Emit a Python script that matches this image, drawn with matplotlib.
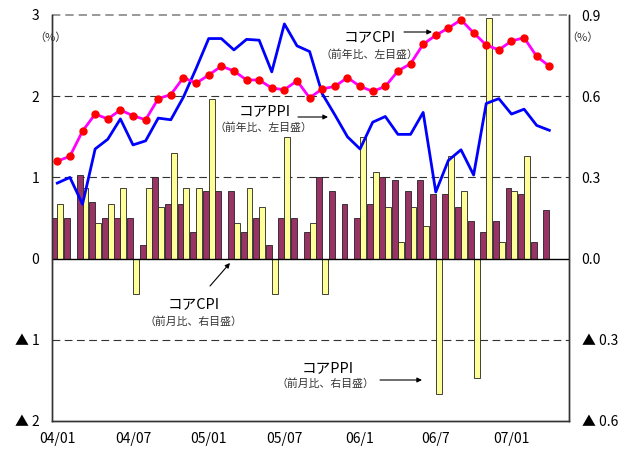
import numpy as np
import matplotlib
matplotlib.use("Agg")
import matplotlib.pyplot as plt

plt.rcParams['font.family'] = ['Noto Sans CJK JP', 'DejaVu Sans']

# ---- data ----
tick_pos = [0, 6, 12, 18, 24, 30, 36]
tick_labels = ["04/01", "04/07", "05/01", "05/07", "06/1", "06/7", "07/01"]

# Core CPI, year-on-year (%), left axis
cpi_yoy = [1.20, 1.26, 1.57, 1.78, 1.72, 1.83, 1.76, 1.71, 1.97, 2.02,
           2.23, 2.16, 2.26, 2.37, 2.31, 2.20, 2.20, 2.10, 2.08, 2.19,
           1.98, 2.09, 2.12, 2.23, 2.12, 2.06, 2.12, 2.31, 2.40, 2.64,
           2.75, 2.84, 2.94, 2.78, 2.63, 2.57, 2.68, 2.72, 2.49, 2.37]
# Core PPI, year-on-year (%), left axis
ppi_yoy = [0.93, 1.00, 0.67, 1.35, 1.47, 1.72, 1.40, 1.45, 1.73, 1.71,
           1.99, 2.34, 2.71, 2.71, 2.57, 2.70, 2.69, 2.30, 2.89, 2.62,
           2.55, 2.03, 1.77, 1.50, 1.35, 1.68, 1.75, 1.53, 1.53, 1.80,
           0.82, 1.21, 1.34, 1.03, 1.91, 1.97, 1.78, 1.84, 1.64, 1.58]
# Core CPI, month-on-month (%), right axis
cpi_mom = [0.15, 0.15, 0.31, 0.21, 0.15, 0.15, 0.15, 0.05, 0.30, 0.20,
           0.20, 0.10, 0.25, 0.25, 0.25, 0.10, 0.15, 0.05, 0.15, 0.15,
           0.10, 0.30, 0.25, 0.20, 0.15, 0.20, 0.30, 0.29, 0.25, 0.29,
           0.24, 0.24, 0.19, 0.14, 0.10, 0.14, 0.26, 0.24, 0.06, 0.18]
# Core PPI, month-on-month (%), right axis
ppi_mom = [0.20, 0.00, 0.26, 0.13, 0.20, 0.26, -0.13, 0.26, 0.19, 0.39,
           0.26, 0.26, 0.59, 0.00, 0.13, 0.26, 0.19, -0.13, 0.45, 0.00,
           0.13, -0.13, 0.00, 0.00, 0.45, 0.32, 0.19, 0.06, 0.19, 0.12,
           -0.50, 0.38, 0.25, -0.44, 0.89, 0.06, 0.25, 0.38, 0.00, 0.00]

W, H = 624, 453
fig = plt.figure(figsize=(W / 100, H / 100), dpi=100)
L, R, T, B = 52, 569, 15, 421
ax = fig.add_axes([L / W, 1 - B / H, (R - L) / W, (B - T) / H])
ax2 = ax.twinx()
ax.set_zorder(ax2.get_zorder() + 1)
ax.patch.set_visible(False)

x = np.arange(len(cpi_yoy))
bw = 0.47
ax2.bar(x - bw, cpi_mom, width=bw, align='edge', color='#993366',
        edgecolor='#222222', linewidth=0.6, zorder=2)
ax2.bar(x, ppi_mom, width=bw, align='edge', color='#FFFF99',
        edgecolor='#222222', linewidth=0.6, zorder=2)

for v in [-0.3, 0.3, 0.6]:
    ax2.axhline(v, color='#333333', linestyle=(0, (7, 4)), linewidth=0.8, zorder=0.5)
ax2.axhline(0.9, color='#888888', linestyle=(0, (5, 3)), linewidth=1.2, zorder=0.5, clip_on=False)
ax2.axhline(0.0, color='black', linewidth=1.0, zorder=3)

ax.plot(x, ppi_yoy, color='#0000FF', linewidth=2, zorder=4)
ax.plot(x, cpi_yoy, color='#FF00FF', linewidth=2, marker='o', markersize=5,
        markerfacecolor='#FF0000', markeredgecolor='#FF0000', zorder=5)

ax.set_xlim(-0.42, 40.56)
ax.set_ylim(-2, 3)
ax2.set_ylim(-0.6, 0.9)

ax.set_xticks(tick_pos)
ax.set_xticklabels(tick_labels, fontsize=10)
ax.set_yticks([-2, -1, 0, 1, 2, 3])
ax.set_yticklabels(['▲ 2', '▲ 1', '0', '1', '2', '3'], fontsize=10)
ax2.set_yticks([-0.6, -0.3, 0.0, 0.3, 0.6, 0.9])
ax2.set_yticklabels(['▲ 0.6', '▲ 0.3', '0.0', '0.3', '0.6', '0.9'], fontsize=10)
ax.tick_params(axis='both', length=0)
ax.tick_params(axis='y', pad=9)
ax.tick_params(axis='x', pad=8)
ax2.tick_params(axis='y', length=0, pad=9)

for a in (ax, ax2):
    a.spines['top'].set_visible(False)
    for s in ('left', 'right', 'bottom'):
        a.spines[s].set_color('#333333')
        a.spines[s].set_linewidth(1.0)


def ftext(px, py, s, size, **kw):
    fig.text(px / W, 1 - py / H, s, fontsize=size, ha='center', va='center', **kw)


def farrow(x0, y0, x1, y1):
    ax.annotate('', xy=(x1, H - y1), xycoords='figure pixels',
                xytext=(x0, H - y0), textcoords='figure pixels',
                arrowprops=dict(arrowstyle='-|>', color='black', lw=0.8,
                                mutation_scale=7, shrinkA=0, shrinkB=0))


ftext(50, 38, '（%）', 8, color='#333333')
ftext(582, 38, '（%）', 8, color='#333333')

ftext(370, 37.5, 'コアCPI', 10.5)
ftext(369, 55, '（前年比、左目盛）', 7.8, color='#333333')
farrow(404, 32, 432, 32)

ftext(265, 111, 'コアPPI', 10.5)
ftext(263, 128, '（前年比、左目盛）', 7.8, color='#333333')
farrow(298, 117, 328, 117)

ftext(194, 304.5, 'コアCPI', 10.5)
ftext(193.5, 321.5, '（前月比、右目盛）', 7.8, color='#333333')
farrow(210, 286, 230, 263)

ftext(327.5, 368, 'コアPPI', 10.5)
ftext(325.5, 384, '（前月比、右目盛）', 7.8, color='#333333')
farrow(380, 380, 422, 380)

fig.savefig('out.png', dpi=100)
